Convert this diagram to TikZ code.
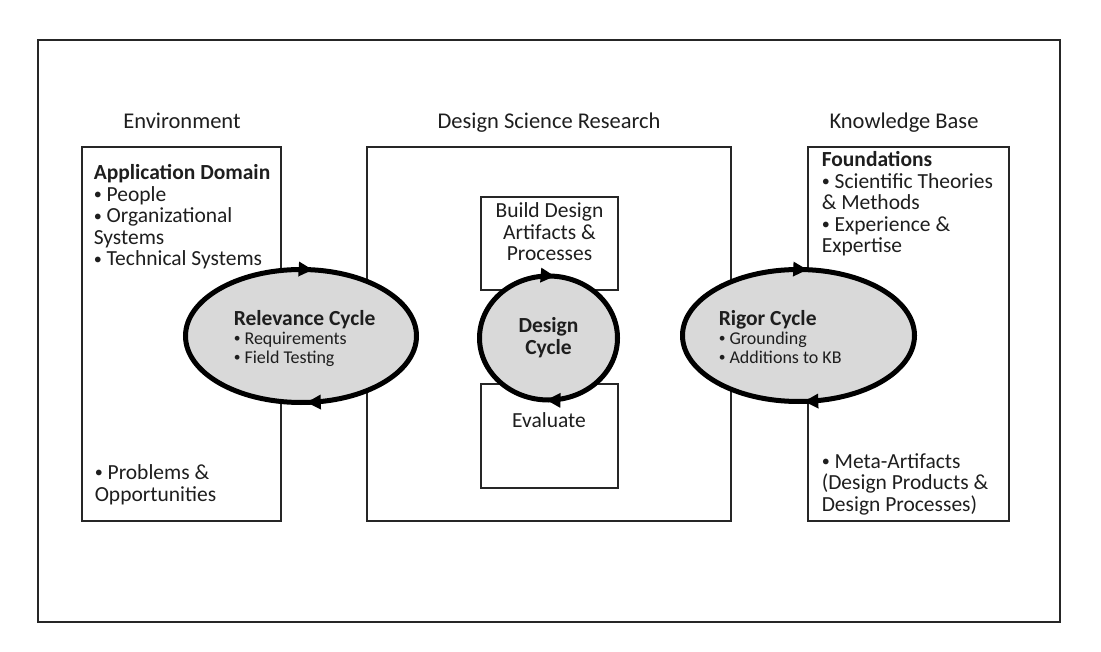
\documentclass[tikz,border=0pt]{standalone}
\usepackage{fontspec}
\setmainfont{Carlito}
\usepackage{xcolor}
\usepackage{graphicx}
\usetikzlibrary{arrows.meta,decorations.markings,positioning}
\definecolor{cycgray}{HTML}{D9D9D9}
\definecolor{ink}{HTML}{1E1E1E}
\newcommand{\bul}{\raisebox{0.08em}{\scalebox{0.75}{•}}}

\begin{document}
\begin{tikzpicture}[x=1pt,y=-1pt,line width=1.5pt,text=ink,
  font=\fontsize{21.5}{21.5}\selectfont,
  box/.style={draw=black!85},
  txt/.style={inner sep=0pt,align=left,anchor=base west},
  ctxt/.style={inner sep=0pt,align=center,anchor=base},
  small/.style={font=\fontsize{18}{19}\selectfont},
  cyctip/.tip={Triangle[length=14pt,width=15pt,line width=0pt]},
  cyc/.style 2 args={line width=5pt,draw=black,fill=cycgray,postaction={decorate},
    decoration={markings,
      mark=at position #1 with {\arrow{cyctip}},
      mark=at position #2 with {\arrow{cyctip}}}}]
\useasboundingbox (0,0) rectangle (1101,652);
% frame and the three columns
\draw[box] (38,40) rectangle (1060,622);
\draw[box] (82,147) rectangle (281,521);
\draw[box] (367,147) rectangle (731,521);
\draw[box] (808,147) rectangle (1009,521);
\draw[box] (481,197) rectangle (618,290);
\draw[box] (481,384) rectangle (618,488);
\foreach \x/\nm/\t in {182/env/Environment,549/dsr/Design Science Research,904/kb/Knowledge Base}
  \node[ctxt,font=\fontsize{22.5}{22.5}\selectfont] (\nm) at (\x,129) {\t};
% the three cycles
\coordinate (relc) at (301,336);
\coordinate (desc) at (548.5,338);
\coordinate (rigc) at (798.5,335.5);
\draw[cyc={0.24}{0.77}] (relc) ellipse [x radius=115.5,y radius=66.5];
\draw[cyc={0.255}{0.765}] (desc) ellipse [x radius=69,y radius=62];
\draw[cyc={0.24}{0.765}] (rigc) ellipse [x radius=116,y radius=66];
% texts (a node's base is its last line)
\node[txt] (appdom) at (93,266) {\textbf{Application Domain}\\\bul{} People\\\bul{} Organizational\\Systems\\\bul{} Technical Systems};
\node[txt] (probs) at (94,501) {\bul{} Problems \&\\Opportunities};
\node[txt] (found) at (821,253) {\textbf{Foundations}\\\bul{} Scientific Theories\\\& Methods\\\bul{} Experience \&\\Expertise};
\node[txt] (meta) at (821,511) {\bul{} Meta-Artifacts\\(Design Products \&\\Design Processes)};
\node[ctxt] (build) at (549.5,261) {Build Design\\Artifacts \&\\Processes};
\node[ctxt] (eval) at (549,428) {Evaluate};
\node[ctxt,font=\fontsize{21.5}{22}\selectfont\bfseries] (dcyc) at (548.5,355) {Design\\Cycle};
\node[txt,small] (rcyc) at (233,363) {{\fontsize{21.5}{19}\selectfont\bfseries Relevance Cycle}\\\bul{} Requirements\\\bul{} Field Testing};
\node[txt,small] (gcyc) at (718,363) {{\fontsize{21.5}{19}\selectfont\bfseries Rigor Cycle}\\\bul{} Grounding\\\bul{} Additions to KB};
\end{tikzpicture}
\end{document}
